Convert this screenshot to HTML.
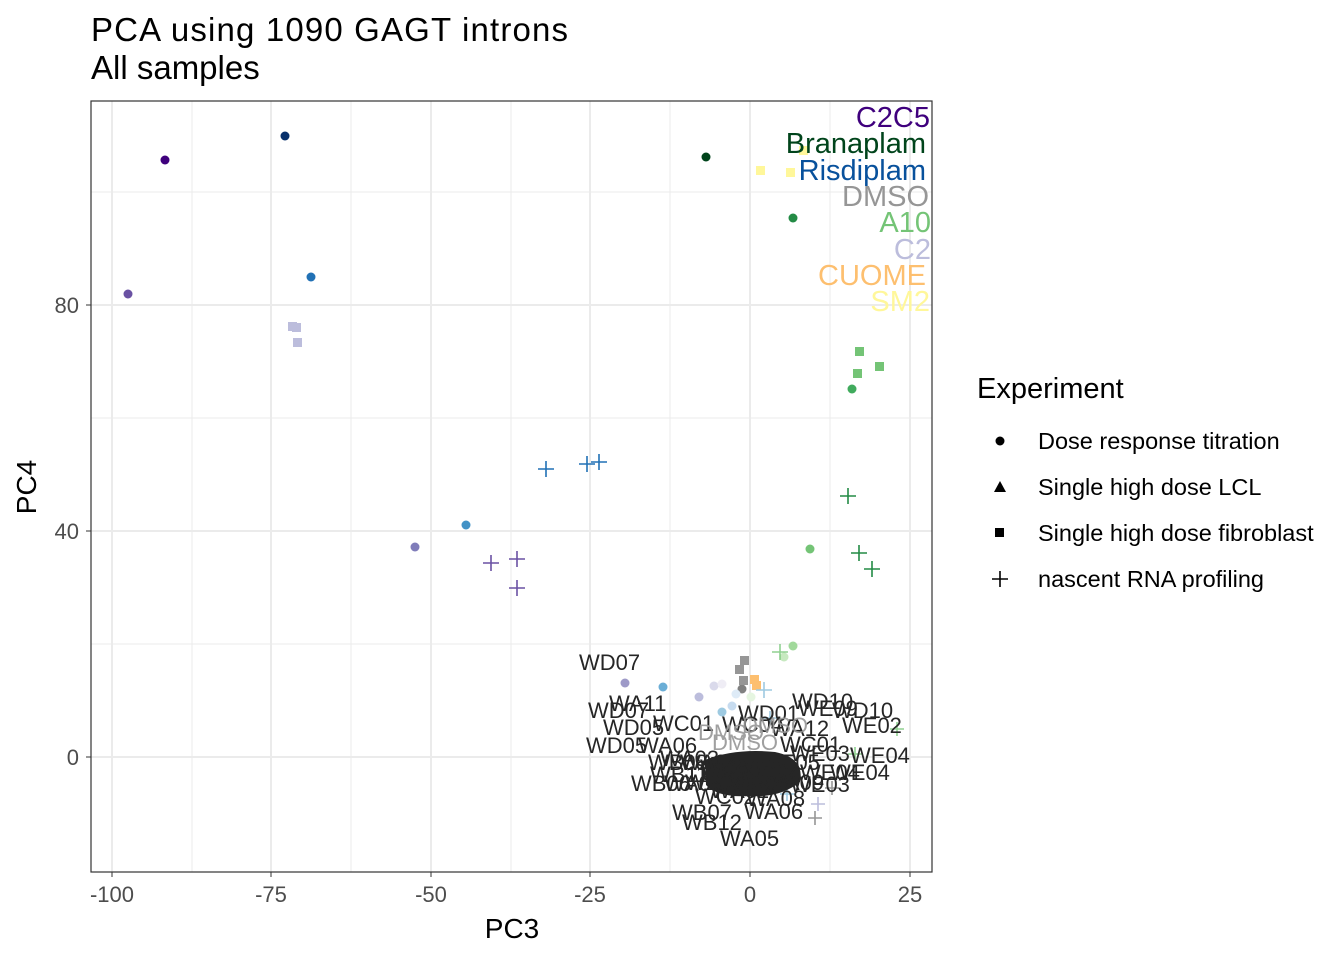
<!DOCTYPE html>
<html><head><style>body{margin:0;background:#fff}svg{display:block}text{font-family:"Liberation Sans",sans-serif}</style></head><body>
<svg width="1344" height="960" xmlns="http://www.w3.org/2000/svg">
<text x="91" y="41" font-size="33" fill="#000" textLength="477">PCA using 1090 GAGT introns</text>
<text x="91" y="79" font-size="33" fill="#000">All samples</text>
<rect x="91" y="101" width="841" height="771" fill="#fff"/>
<g stroke="#ebebeb" stroke-width="1">
<line x1="192" y1="101" x2="192" y2="872"/><line x1="351" y1="101" x2="351" y2="872"/><line x1="511" y1="101" x2="511" y2="872"/><line x1="670" y1="101" x2="670" y2="872"/><line x1="830" y1="101" x2="830" y2="872"/>
<line x1="91" y1="192" x2="932" y2="192"/><line x1="91" y1="418" x2="932" y2="418"/><line x1="91" y1="644" x2="932" y2="644"/>
</g>
<g stroke="#ebebeb" stroke-width="2">
<line x1="112" y1="101" x2="112" y2="872"/><line x1="271" y1="101" x2="271" y2="872"/><line x1="431" y1="101" x2="431" y2="872"/><line x1="590" y1="101" x2="590" y2="872"/><line x1="750" y1="101" x2="750" y2="872"/><line x1="910" y1="101" x2="910" y2="872"/>
<line x1="91" y1="305" x2="932" y2="305"/><line x1="91" y1="531" x2="932" y2="531"/><line x1="91" y1="757" x2="932" y2="757"/>
</g>
<g>
<circle cx="165" cy="160" r="4.5" fill="#3f007d"/><circle cx="285" cy="136" r="4.5" fill="#08306b"/><circle cx="706" cy="157" r="4.5" fill="#00441b"/>
<circle cx="128" cy="294" r="4.5" fill="#6a51a3"/><circle cx="311" cy="277" r="4.5" fill="#2171b5"/><circle cx="793" cy="218" r="4.5" fill="#238b45"/>
<circle cx="415" cy="547" r="4.5" fill="#807dba"/><circle cx="466" cy="525" r="4.5" fill="#4292c6"/><circle cx="852" cy="389" r="4.5" fill="#41ab5d"/><circle cx="810" cy="549" r="4.5" fill="#74c476"/>
<circle cx="625" cy="683" r="4.5" fill="#9e9ac8"/><circle cx="663" cy="687" r="4.5" fill="#6baed6"/><circle cx="699" cy="697" r="4.5" fill="#bcbddc"/><circle cx="714" cy="686" r="4.5" fill="#dadaeb"/><circle cx="722" cy="684" r="4.5" fill="#efedf5"/><circle cx="742" cy="689" r="4.5" fill="#808080"/><circle cx="736" cy="694" r="4.5" fill="#deebf7"/><circle cx="732" cy="706" r="4.5" fill="#c6dbef"/><circle cx="722" cy="712" r="4.5" fill="#9ecae1"/><circle cx="793" cy="646" r="4.5" fill="#a1d99b"/><circle cx="784" cy="657" r="4.5" fill="#c7e9c0"/><circle cx="751" cy="697" r="4.5" fill="#e5f5e0"/>
<g fill="#bcbddc"><rect x="288" y="322" width="9" height="9"/><rect x="292" y="323" width="9" height="9"/><rect x="293" y="338" width="9" height="9"/></g>
<g fill="#fff79a"><rect x="756" y="166" width="9" height="9"/><rect x="786" y="168" width="9" height="9"/><rect x="799" y="146" width="9" height="9"/></g>
<g fill="#74c476"><rect x="855" y="347" width="9" height="9"/><rect x="853" y="369" width="9" height="9"/><rect x="875" y="362" width="9" height="9"/></g>
<g fill="#969696"><rect x="740" y="656" width="9" height="9"/><rect x="735" y="665" width="9" height="9"/><rect x="739" y="676" width="9" height="9"/></g>
<g fill="#fdbf6f"><rect x="750" y="675" width="9" height="9"/><rect x="752" y="681" width="9" height="9"/></g>
<g stroke-width="1.6" fill="none">
<path d="M538 469h16M546 461v16M579 464h16M587 456v16M591 462h16M599 454v16" stroke="#2171b5"/>
<path d="M483 563h16M491 555v16M509 559h16M517 551v16M509 588h16M517 580v16" stroke="#6a51a3"/>
<path d="M840 496h16M848 488v16M851 553h16M859 545v16M864 569h16M872 561v16" stroke="#238b45"/>
<path d="M772 652h16M780 644v16M890 729h14M897 722v14M848 754h14M855 747v14" stroke="#74c476" opacity=".8"/>
<path d="M756 690h16M764 682v16M763 718h14M770 711v14M780 794h14M787 787v14" stroke="#9ecae1"/>
<path d="M763 778h14M770 771v14M777 782h14M784 775v14M811 804h14M818 797v14" stroke="#bcbddc"/>
<path d="M808 818h14M815 811v14M825 788h14M832 781v14" stroke="#969696"/>
</g>
</g>
<path d="M705 760 Q735 748 775 752 Q805 758 800 782 Q780 798 750 796 Q718 798 706 785 Z" fill="#262626"/>
<g font-size="22" fill="#262626">
<text x="579" y="670">WD07</text><text x="609" y="711">WA11</text><text x="588" y="718">WD07</text><text x="603" y="735">WD05</text><text x="653" y="731">WC01</text><text x="586" y="753">WD05</text><text x="638" y="753">WA06</text>
<text x="648" y="770">WB08</text><text x="660" y="766">WA03</text><text x="650" y="782">WB11</text><text x="631" y="791">WB06</text><text x="664" y="791">WA09</text><text x="695" y="804">WC02</text><text x="685" y="790">WB04</text><text x="700" y="775">WC03</text>
<text x="672" y="820">WB07</text><text x="682" y="830">WB12</text><text x="744" y="819">WA06</text><text x="720" y="846">WA05</text><text x="746" y="806">WA08</text><text x="710" y="798">WA02</text><text x="730" y="790">WB09</text>
<text x="738" y="721">WD01</text><text x="722" y="732">WC04</text><text x="770" y="736">WA12</text><text x="780" y="752">WC01</text><text x="790" y="761">WE03</text><text x="760" y="770">WE05</text><text x="740" y="780">WD04</text>
<text x="792" y="709">WD10</text><text x="798" y="716">WE09</text><text x="832" y="718">WD10</text><text x="842" y="733">WE02</text><text x="850" y="763">WE04</text>
<text x="800" y="780">WE04</text><text x="830" y="780">WE04</text><text x="790" y="792">WE03</text><text x="765" y="790">WA09</text><text x="680" y="770">WA04</text><text x="700" y="780">WB01</text>
</g>
<g font-size="22" fill="#969696" opacity=".9"><text x="698" y="740">DMSO</text><text x="712" y="750">DMSO</text><text x="742" y="733">DMSO</text></g>
<g font-size="29" text-anchor="end">
<text x="930" y="127" fill="#3f007d">C2C5</text><text x="926" y="153" fill="#00441b">Branaplam</text><text x="926" y="180" fill="#08519c">Risdiplam</text><text x="929" y="206" fill="#969696">DMSO</text><text x="931" y="232" fill="#74c476">A10</text><text x="931" y="259" fill="#bcbddc">C2</text><text x="926" y="285" fill="#fdbf6f">CUOME</text><text x="930" y="311" fill="#fff79a">SM2</text>
</g>
<rect x="91" y="101" width="841" height="771" fill="none" stroke="#333" stroke-width="1.2"/>
<g stroke="#333"><line x1="112" y1="872" x2="112" y2="877"/><line x1="271" y1="872" x2="271" y2="877"/><line x1="431" y1="872" x2="431" y2="877"/><line x1="590" y1="872" x2="590" y2="877"/><line x1="750" y1="872" x2="750" y2="877"/><line x1="910" y1="872" x2="910" y2="877"/>
<line x1="86" y1="305" x2="91" y2="305"/><line x1="86" y1="531" x2="91" y2="531"/><line x1="86" y1="757" x2="91" y2="757"/></g>
<g font-size="22" fill="#4d4d4d" text-anchor="middle"><text x="112" y="902">-100</text><text x="271" y="902">-75</text><text x="431" y="902">-50</text><text x="590" y="902">-25</text><text x="750" y="902">0</text><text x="910" y="902">25</text></g>
<g font-size="22" fill="#4d4d4d" text-anchor="end"><text x="79" y="313">80</text><text x="79" y="539">40</text><text x="79" y="765">0</text></g>
<text x="512" y="938" font-size="28" text-anchor="middle">PC3</text>
<text transform="translate(36 487) rotate(-90)" font-size="28" text-anchor="middle">PC4</text>
<text x="977" y="398" font-size="29">Experiment</text>
<circle cx="1000" cy="441" r="4.5" fill="#000"/><path d="M994 492 L1000 481 L1006 492Z" fill="#000"/><rect x="995" y="528" width="9" height="9" fill="#000"/><path d="M992 579h16M1000 571v16" stroke="#000" stroke-width="1.6"/>
<g font-size="23.5"><text x="1038" y="449">Dose response titration</text><text x="1038" y="495">Single high dose LCL</text><text x="1038" y="541">Single high dose fibroblast</text><text x="1038" y="587">nascent RNA profiling</text></g>
</svg>
</body></html>
